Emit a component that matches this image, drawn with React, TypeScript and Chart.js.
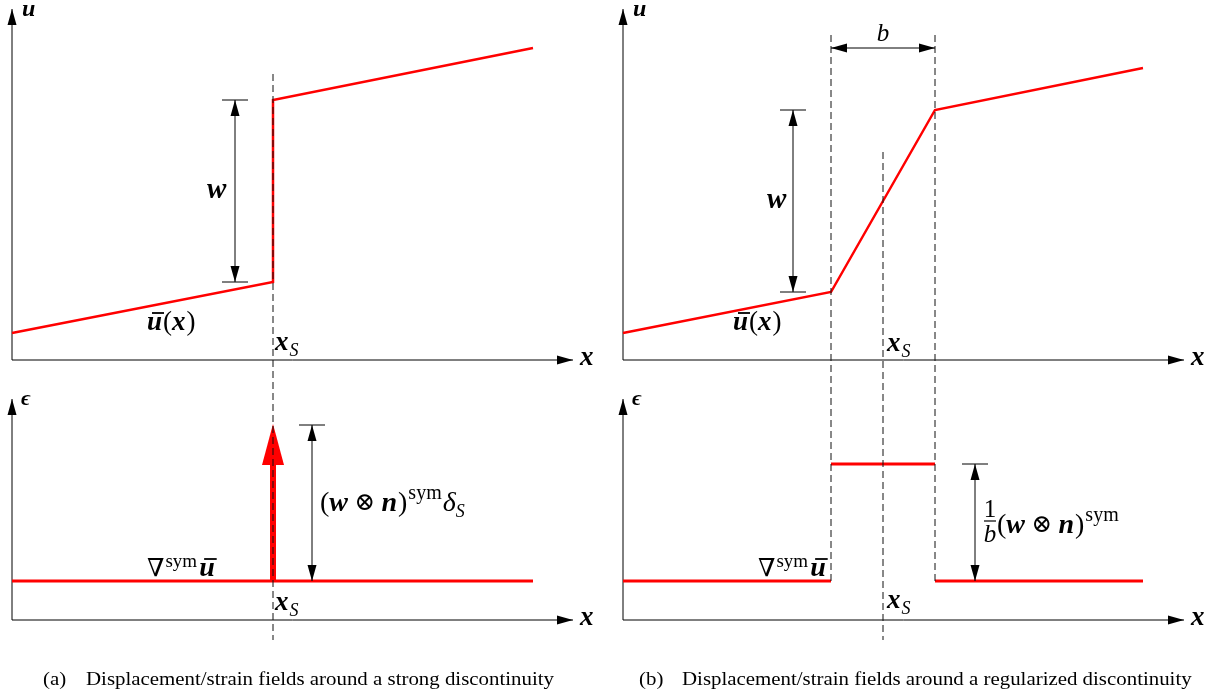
import React, { useEffect, useRef } from "react";
import { Chart, registerables } from "chart.js";

Chart.register(...registerables);

// ---- Data (local units: pixels from each panel's axis origin, y upward) ----
// Panel (a): strong discontinuity
const strongUX = [0, 261, 261, 521];
const strongUY = [27, 78, 260, 312];
const strongEpsX = [0, 521];
const strongEpsY = [39, 39];
const strongXs = 261;
const strongDeltaBase = 39;
const strongDeltaHeadBase = 155;
const strongDeltaTop = 196;

// Panel (b): regularized discontinuity
const regUX = [0, 208, 312, 520];
const regUY = [27, 68, 250, 292];
const regEpsBreaks = [0, 208, 312, 520];
const regEpsLevels = [39, 156, 39];
const regBandEdges = [208, 312];
const regXs = 260;

// Axes extents
const xAxisLength = 561;
const uAxisTop = 351;
const epsAxisTop = 221;

// Captions
const captionA = ["(a)", "Displacement/strain fields around a strong discontinuity"];
const captionB = ["(b)", "Displacement/strain fields around a regularized discontinuity"];

// ---- Layout (panel origins in canvas pixels) ----
const W = 1217;
const H = 693;
const ORIGIN_A_X = 12;
const ORIGIN_B_X = 623;
const ORIGIN_U_Y = 360;
const ORIGIN_E_Y = 620;

const RED = "#ff0000";
const SERIF = "'Liberation Serif', 'DejaVu Serif', serif";
const MB = (s: number) => `bold italic ${s}px ${SERIF}`;
const MI = (s: number) => `italic ${s}px ${SERIF}`;
const RM = (s: number) => `${s}px ${SERIF}`;

type Part = { t: string; f: string; dx?: number; dy?: number; bar?: boolean };

function pts(xs: number[], ys: number[]) {
  return xs.map((x, i) => ({ x, y: ys[i] }));
}

function line(
  xId: string,
  yId: string,
  data: { x: number; y: number }[],
  color: string,
  width: number,
  order: number,
  dash: number[] = []
) {
  return {
    data,
    xAxisID: xId,
    yAxisID: yId,
    showLine: true,
    borderColor: color,
    backgroundColor: color,
    borderWidth: width,
    borderDash: dash,
    pointRadius: 0,
    fill: false,
    tension: 0,
    order,
  };
}

const DASH = [7, 4];
const DASH_COLOR = "#111";

function buildDatasets() {
  const ds: any[] = [];
  // axes
  for (const xId of ["xa", "xb"]) {
    ds.push(line(xId, "yu", pts([0, xAxisLength], [0, 0]), "#000", 1, 3));
    ds.push(line(xId, "yu", pts([0, 0], [0, uAxisTop]), "#000", 1, 3));
    ds.push(line(xId, "ye", pts([0, xAxisLength], [0, 0]), "#000", 1, 3));
    ds.push(line(xId, "ye", pts([0, 0], [0, epsAxisTop]), "#000", 1, 3));
  }
  // (a) displacement
  ds.push(line("xa", "yu", pts(strongUX, strongUY), RED, 2.5, 2));
  // (a) strain
  ds.push(line("xa", "ye", pts(strongEpsX, strongEpsY), RED, 2.8, 2));
  ds.push(
    line("xa", "ye", pts([strongXs, strongXs], [strongDeltaBase, strongDeltaHeadBase + 2]), RED, 6, 2)
  );
  // (b) displacement
  ds.push(line("xb", "yu", pts(regUX, regUY), RED, 2.5, 2));
  // (b) strain segments
  regEpsLevels.forEach((lv, i) => {
    ds.push(line("xb", "ye", pts([regEpsBreaks[i], regEpsBreaks[i + 1]], [lv, lv]), RED, 2.8, 2));
  });
  // dashed lines
  ds.push(line("xa", "yu", pts([strongXs, strongXs], [286, -280]), DASH_COLOR, 1, 0, DASH));
  for (const e of regBandEdges) {
    ds.push(line("xb", "yu", pts([e, e], [325, -221]), DASH_COLOR, 1, 0, DASH));
  }
  ds.push(line("xb", "yu", pts([regXs, regXs], [208, -280]), DASH_COLOR, 1, 0, DASH));
  return ds;
}

function arrowHead(ctx: CanvasRenderingContext2D, tx: number, ty: number, dx: number, dy: number, len: number, hw: number, color: string) {
  const bx = tx - dx * len;
  const by = ty - dy * len;
  const px = -dy;
  const py = dx;
  ctx.save();
  ctx.fillStyle = color;
  ctx.beginPath();
  ctx.moveTo(tx, ty);
  ctx.lineTo(bx + px * hw, by + py * hw);
  ctx.lineTo(bx - px * hw, by - py * hw);
  ctx.closePath();
  ctx.fill();
  ctx.restore();
}

function drawRich(ctx: CanvasRenderingContext2D, x: number, y: number, parts: Part[], align: "left" | "center" = "left") {
  ctx.save();
  ctx.textBaseline = "alphabetic";
  ctx.textAlign = "left";
  ctx.fillStyle = "#000";
  let total = 0;
  for (const p of parts) {
    ctx.font = p.f;
    total += (p.dx || 0) + ctx.measureText(p.t).width;
  }
  let cx = align === "center" ? x - total / 2 : x;
  for (const p of parts) {
    ctx.font = p.f;
    cx += p.dx || 0;
    const w = ctx.measureText(p.t).width;
    ctx.fillText(p.t, cx, y + (p.dy || 0));
    if (p.bar) {
      ctx.strokeStyle = "#000";
      ctx.lineWidth = 1.8;
      ctx.beginPath();
      ctx.moveTo(cx + 5, y - 17);
      ctx.lineTo(cx + w + 2, y - 17);
      ctx.stroke();
    }
    cx += w;
  }
  ctx.restore();
}

const uBarX: Part[] = [
  { t: "u", f: MB(27), bar: true },
  { t: "(", f: RM(27), dx: 1 },
  { t: "x", f: MB(27) },
  { t: ")", f: RM(27), dx: 1 },
];
const xsLabel: Part[] = [
  { t: "x", f: MB(27) },
  { t: "S", f: MI(18), dy: 6, dx: 1 },
];
const nablaLabel: Part[] = [
  { t: "∇", f: RM(25) },
  { t: "sym", f: RM(19), dy: -9, dx: 1 },
  { t: "u", f: MB(28), bar: true, dx: 2 },
];
const wnParts: Part[] = [
  { t: "(", f: RM(28) },
  { t: "w", f: MB(28) },
  { t: " ⊗ ", f: RM(25), dy: -1 },
  { t: "n", f: MB(28) },
  { t: ")", f: RM(28), dx: 1 },
  { t: "sym", f: RM(20), dy: -12, dx: 1 },
];
const strongLabel: Part[] = [...wnParts, { t: "δ", f: MI(28), dx: 1 }, { t: "S", f: MI(18), dy: 6 }];

const diagramPlugin = {
  id: "diagram",
  beforeDatasetsDraw(chart: any) {
    const ctx: CanvasRenderingContext2D = chart.ctx;
    const xa = chart.scales.xa;
    const ye = chart.scales.ye;
    const tx = xa.getPixelForValue(strongXs);
    const ty = ye.getPixelForValue(strongDeltaTop);
    const by = ye.getPixelForValue(strongDeltaHeadBase);
    arrowHead(ctx, tx, ty, 0, -1, by - ty, 11, RED);
  },
  afterDatasetsDraw(chart: any) {
    const ctx: CanvasRenderingContext2D = chart.ctx;
    const S = chart.scales;
    const P = (xId: string, yId: string, x: number, y: number) => [
      S[xId].getPixelForValue(x),
      S[yId].getPixelForValue(y),
    ];

    // axis arrowheads
    for (const xId of ["xa", "xb"]) {
      for (const yId of ["yu", "ye"]) {
        const [ax, ay] = P(xId, yId, xAxisLength, 0);
        arrowHead(ctx, ax, ay, 1, 0, 16, 4.5, "#000");
        const top = yId === "yu" ? uAxisTop : epsAxisTop;
        const [vx, vy] = P(xId, yId, 0, top);
        arrowHead(ctx, vx, vy, 0, -1, 16, 4.5, "#000");
      }
    }

    // dimension arrows (vertical)
    const dims = [
      { x: "xa", y: "yu", at: 223, from: 78, to: 260, lowTick: true },
      { x: "xa", y: "ye", at: 300, from: 39, to: 195, lowTick: false },
      { x: "xb", y: "yu", at: 170, from: 68, to: 250, lowTick: true },
      { x: "xb", y: "ye", at: 352, from: 39, to: 156, lowTick: false },
    ];
    ctx.save();
    ctx.strokeStyle = "#000";
    ctx.lineWidth = 1;
    for (const d of dims) {
      const [x0, y0] = P(d.x, d.y, d.at, d.from);
      const [, y1] = P(d.x, d.y, d.at, d.to);
      ctx.beginPath();
      ctx.moveTo(x0, y0);
      ctx.lineTo(x0, y1);
      ctx.moveTo(x0 - 13, y1);
      ctx.lineTo(x0 + 13, y1);
      if (d.lowTick) {
        ctx.moveTo(x0 - 13, y0);
        ctx.lineTo(x0 + 13, y0);
      }
      ctx.stroke();
      arrowHead(ctx, x0, y1, 0, -1, 16, 4.5, "#000");
      arrowHead(ctx, x0, y0, 0, 1, 16, 4.5, "#000");
    }
    // horizontal b dimension
    {
      const [bx0, by0] = P("xb", "yu", regBandEdges[0], 312);
      const [bx1] = P("xb", "yu", regBandEdges[1], 312);
      ctx.beginPath();
      ctx.moveTo(bx0, by0);
      ctx.lineTo(bx1, by0);
      ctx.stroke();
      arrowHead(ctx, bx0, by0, -1, 0, 16, 4.5, "#000");
      arrowHead(ctx, bx1, by0, 1, 0, 16, 4.5, "#000");
    }
    ctx.restore();

    // labels
    const T = (xId: string, yId: string, x: number, y: number, parts: Part[], align: "left" | "center" = "left") => {
      const [px, py] = P(xId, yId, x, y);
      drawRich(ctx, px, py, parts, align);
    };
    for (const xId of ["xa", "xb"]) {
      T(xId, "yu", 10, 344, [{ t: "u", f: MB(24) }]);
      T(xId, "ye", 9, 215, [{ t: "ϵ", f: MB(22) }]);
      T(xId, "yu", 568, -5, [{ t: "x", f: MB(27) }]);
      T(xId, "ye", 568, -5, [{ t: "x", f: MB(27) }]);
      T(xId, "ye", 135, 44, nablaLabel);
    }
    // (a)
    T("xa", "yu", 195, 162, [{ t: "w", f: MB(29) }]);
    T("xa", "yu", 135, 30, uBarX);
    T("xa", "yu", 263, 10, xsLabel);
    T("xa", "ye", 263, 10, xsLabel);
    T("xa", "ye", 308, 109, strongLabel);
    // (b)
    T("xb", "yu", 144, 152, [{ t: "w", f: MB(29) }]);
    T("xb", "yu", 110, 30, uBarX);
    T("xb", "yu", 264, 9, xsLabel);
    T("xb", "ye", 264, 12, xsLabel);
    T("xb", "yu", 260, 319, [{ t: "b", f: MI(25) }], "center");
    // fraction 1/b
    {
      const [fx, fy] = P("xb", "ye", 367, 99);
      ctx.save();
      ctx.strokeStyle = "#000";
      ctx.lineWidth = 1.2;
      ctx.beginPath();
      ctx.moveTo(fx - 6, fy);
      ctx.lineTo(fx + 6, fy);
      ctx.stroke();
      ctx.restore();
      drawRich(ctx, fx, fy - 4, [{ t: "1", f: RM(25) }], "center");
      drawRich(ctx, fx, fy + 21, [{ t: "b", f: MI(25) }], "center");
      T("xb", "ye", 374, 87, wnParts);
    }

    // captions (slightly stretched horizontally like the reference)
    const cap = (t: string, x: number) => {
      ctx.save();
      ctx.fillStyle = "#000";
      ctx.font = RM(18);
      ctx.textBaseline = "alphabetic";
      ctx.translate(x, 685);
      ctx.scale(1.16, 1);
      ctx.fillText(t, 0, 0);
      ctx.restore();
    };
    cap(captionA[0], 43);
    cap(captionA[1], 86);
    cap(captionB[0], 639);
    cap(captionB[1], 682);
  },
};

export default function App() {
  const ref = useRef<HTMLCanvasElement>(null);
  useEffect(() => {
    document.body.style.margin = "0";
    const hidden = { type: "linear" as const, display: false };
    const chart = new Chart(ref.current as HTMLCanvasElement, {
      type: "scatter",
      data: { datasets: buildDatasets() },
      options: {
        responsive: false,
        animation: false,
        devicePixelRatio: 1,
        events: [],
        layout: { padding: 0 },
        plugins: { legend: { display: false }, tooltip: { enabled: false } },
        scales: {
          xa: { ...hidden, axis: "x", min: -ORIGIN_A_X, max: W - ORIGIN_A_X },
          xb: { ...hidden, axis: "x", min: -ORIGIN_B_X, max: W - ORIGIN_B_X },
          yu: { ...hidden, axis: "y", min: -(H - ORIGIN_U_Y), max: ORIGIN_U_Y },
          ye: { ...hidden, axis: "y", min: -(H - ORIGIN_E_Y), max: ORIGIN_E_Y },
        },
      } as any,
      plugins: [diagramPlugin],
    });
    return () => chart.destroy();
  }, []);
  return <canvas ref={ref} width={W} height={H} style={{ display: "block" }} />;
}
